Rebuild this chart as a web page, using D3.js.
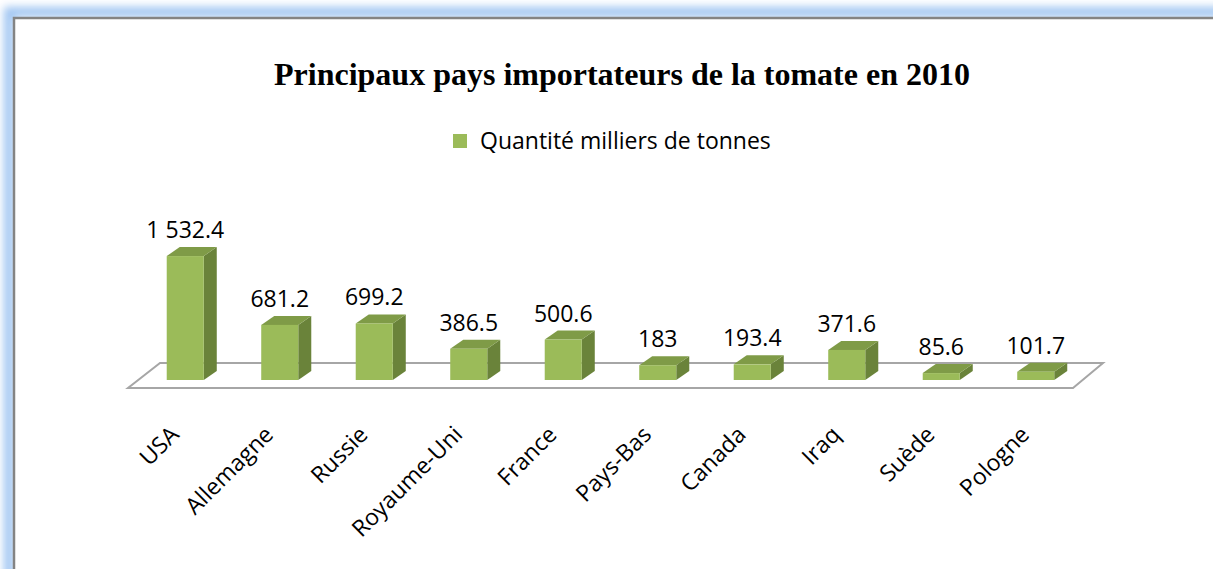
<!DOCTYPE html>
<html><head><meta charset="utf-8">
<script src="https://cdn.jsdelivr.net/npm/d3@7"></script>
<style>html,body{margin:0;padding:0;background:#fff;overflow:hidden}</style>
</head><body>
<svg id="chart" width="1213" height="569"></svg>
<script>
const categories = ["USA","Allemagne","Russie","Royaume-Uni","France","Pays-Bas","Canada","Iraq","Suède","Pologne"];
const values = [1532.4, 681.2, 699.2, 386.5, 500.6, 183, 193.4, 371.6, 85.6, 101.7];
const valueLabels = ["1 532.4","681.2","699.2","386.5","500.6","183","193.4","371.6","85.6","101.7"];
const title = "Principaux pays importateurs de la tomate en 2010";
const seriesName = "Quantité milliers de tonnes";

const svg = d3.select("#chart");
const W = 1213, H = 569;
const defs = svg.append("defs");
const glow = defs.append("filter").attr("id","glow").attr("x","-5%").attr("y","-5%").attr("width","110%").attr("height","110%");
glow.append("feGaussianBlur").attr("stdDeviation",4);

// frame glow
svg.append("rect").attr("x",9).attr("y",12).attr("width",W+40).attr("height",H+40)
  .attr("fill","none").attr("stroke","#9ec4f2").attr("stroke-width",10).attr("filter","url(#glow)");
svg.append("rect").attr("x",14).attr("y",18).attr("width",W+40).attr("height",H+40)
  .attr("fill","#fff").attr("stroke","#848484").attr("stroke-width",2.5);

// title
svg.append("text").attr("x",622).attr("y",85).attr("text-anchor","middle")
  .attr("font-family","'Liberation Serif','Times New Roman',serif").attr("font-weight","bold")
  .attr("font-size",32).attr("fill","#000").text(title);

// legend
svg.append("rect").attr("x",453).attr("y",134).attr("width",14).attr("height",14).attr("fill","#9bbb59");
svg.append("text").attr("x",480).attr("y",149).attr("font-family","'Open Sans',sans-serif")
  .attr("font-size",23).attr("fill","#000").text(seriesName);

// scales
const x = d3.scaleBand().domain(categories).range([138, 1083]).paddingInner(0.608).paddingOuter(0.304);
const y = d3.scaleLinear().domain([0, 1600]).range([380, 250.6]);
const dx = 13, dy = -9;

// floor
const fy0 = 388, fy1 = 363;
const floorPts = [[128,fy0],[1073,fy0],[1103,fy1],[160,fy1]];
svg.append("polygon").attr("points", floorPts.map(p=>p.join(",")).join(" "))
  .attr("fill","#fff").attr("stroke","#a6a6a6").attr("stroke-width",2).attr("stroke-linejoin","miter");

const bw = x.bandwidth();
const g = svg.append("g");
const bars = g.selectAll("g.bar").data(categories.map((c,i)=>({c, v:values[i], l:valueLabels[i]}))).join("g");
// side face
bars.append("polygon").attr("fill","#6a833a").attr("points", d=>{
  const x1 = x(d.c)+bw, yt = y(d.v), yb = y(0);
  return [[x1,yb],[x1,yt],[x1+dx,yt+dy],[x1+dx,yb+dy]].map(p=>p.join(",")).join(" ");
});
// top face
bars.append("polygon").attr("fill","#7f9b47").attr("points", d=>{
  const x0 = x(d.c), x1 = x0+bw, yt = y(d.v);
  return [[x0,yt],[x1,yt],[x1+dx,yt+dy],[x0+dx,yt+dy]].map(p=>p.join(",")).join(" ");
});
// front face
bars.append("rect").attr("fill","#9bbb59").attr("x",d=>x(d.c)).attr("y",d=>y(d.v))
  .attr("width",bw).attr("height",d=>y(0)-y(d.v));
// value labels
bars.append("text").attr("x",d=>x(d.c)+bw/2).attr("y",d=>y(d.v)-18).attr("text-anchor","middle")
  .attr("font-family","'Open Sans',sans-serif").attr("font-size",23).attr("fill","#000").text(d=>d.l);

// category axis labels
svg.selectAll("text.cat").data(categories).join("text").attr("class","cat")
  .attr("text-anchor","end").attr("font-family","'Open Sans',sans-serif").attr("font-size",23).attr("fill","#000")
  .attr("transform", d=>`translate(${x(d)+bw/2-5},${436}) rotate(-45)`).text(d=>d);
</script>
</body></html>
